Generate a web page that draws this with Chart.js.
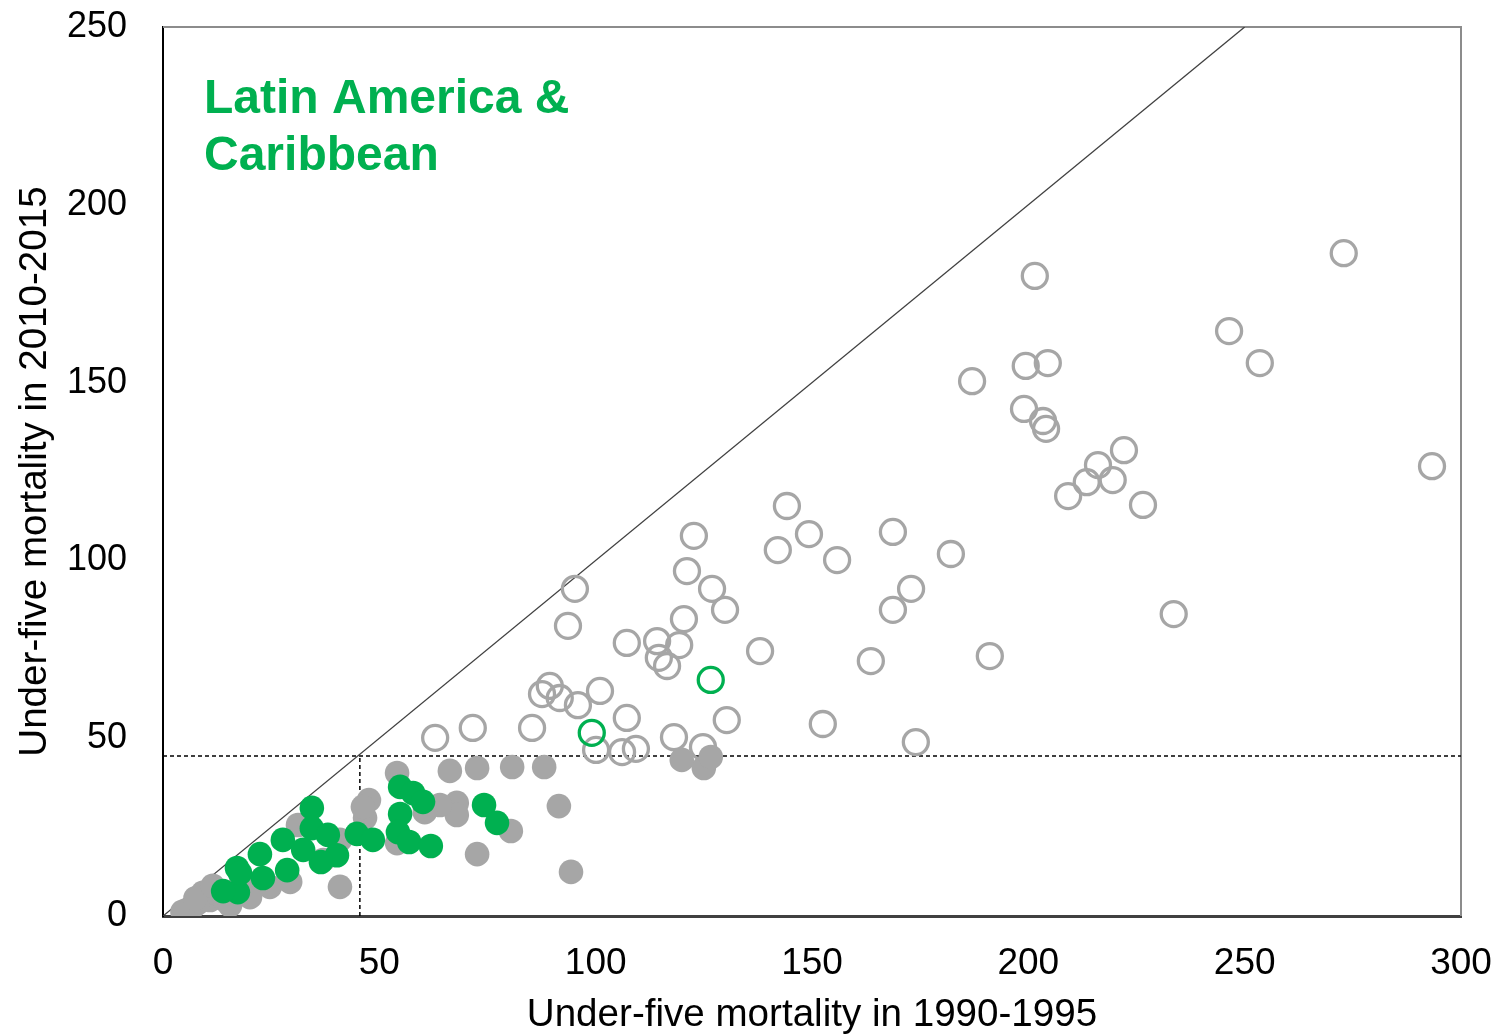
<!DOCTYPE html>
<html>
<head>
<meta charset="utf-8">
<title>Under-five mortality: 1990-1995 vs 2010-2015</title>
<script src="https://cdn.jsdelivr.net/npm/chart.js@4.4.1/dist/chart.umd.min.js"></script>
<style>
  html, body { margin: 0; padding: 0; background: #ffffff; }
  #wrap { width: 1501px; height: 1035px; position: relative; }
</style>
</head>
<body>
<div id="wrap"><canvas id="chart" width="1501" height="1035"></canvas></div>
<script>
// ---- Data -------------------------------------------------------------
// Under-five mortality (per 1,000 live births), 1990-1995 (x) vs 2010-2015 (y)

// Other countries above the 45 threshold (hollow grey)
const otherHighX = [201.5, 272.9, 246.4, 253.5, 293.3, 187.0, 199.4, 204.5, 199.0, 203.4,
                    204.1, 222.1, 216.1, 213.5, 209.2, 219.5, 226.5, 233.6, 144.2, 142.1,
                    149.3, 155.8, 168.7, 182.1, 172.9, 168.7, 191.1, 163.6, 138.0, 152.5,
                    174.0, 122.7, 121.1, 126.9, 129.9, 120.4, 130.3, 95.2, 93.6, 107.2,
                    114.2, 119.3, 114.6, 116.5, 89.4, 87.6, 91.7, 95.9, 101.0, 107.2,
                    85.3, 71.6, 62.9, 118.1, 124.8, 100.1, 106.1, 109.3];
const otherHighY = [180.0, 186.4, 164.5, 155.5, 126.5, 150.4, 154.7, 155.5, 142.6, 139.2,
                    137.0, 131.0, 126.8, 122.0, 118.1, 122.6, 115.6, 84.9, 115.3, 102.9,
                    107.4, 100.1, 108.0, 101.8, 92.0, 86.1, 73.1, 71.7, 74.5, 54.0,
                    48.9, 106.9, 97.0, 92.0, 86.1, 83.5, 55.1, 92.0, 81.6, 76.8,
                    77.3, 76.2, 72.6, 70.3, 64.7, 62.4, 61.3, 59.3, 63.3, 55.7,
                    52.9, 52.9, 50.1, 50.3, 47.5, 46.7, 46.1, 47.0];

// Latin America & Caribbean above the threshold (hollow green)
const latamHighX = [99.1, 126.6];
const latamHighY = [51.5, 66.4];

// Other countries below the threshold (solid grey)
const otherLowX = [54.1, 66.3, 72.6, 80.7, 88.1, 119.9, 125.0, 126.6, 91.5, 94.3,
                   72.6, 80.4, 67.9, 67.9, 64.0, 60.5, 47.6, 46.7, 46.2, 54.1,
                   40.9, 40.9, 37.0, 31.2, 29.4, 24.7, 20.1, 10.9, 9.2, 6.9,
                   5.5, 8.1, 12.0, 14.3, 18.0, 4.5, 7.5, 11.5, 15.5];
const otherLowY = [40.2, 40.8, 41.6, 41.9, 41.9, 43.9, 41.6, 44.7, 30.9, 12.4,
                   17.4, 23.9, 31.8, 28.4, 31.2, 29.2, 32.6, 27.6, 30.7, 20.5,
                   8.2, 21.4, 15.7, 25.6, 9.6, 8.2, 5.3, 4.5, 6.5, 2.5,
                   1.7, 3.7, 6.5, 4.5, 9.0, 1.2, 5.0, 8.5, 3.0];

// Latin America & Caribbean below the threshold (solid green)
const latamLowX = [34.4, 34.4, 38.1, 40.2, 36.5, 32.4, 27.7, 28.7, 22.4, 23.1,
                   17.1, 17.3, 13.9, 17.8, 44.8, 48.5, 54.8, 57.8, 60.1, 54.8,
                   54.3, 56.9, 61.9, 74.2, 77.2];
const latamLowY = [30.4, 24.7, 22.8, 17.1, 15.2, 18.6, 21.4, 12.9, 17.4, 10.7,
                   13.5, 6.7, 7.0, 12.1, 23.1, 21.4, 36.3, 34.6, 32.1, 28.7,
                   23.6, 20.8, 19.7, 31.2, 26.2];

// Reference lines: equality line and the 45 threshold
const parityX = [0, 250];
const parityY = [0, 250];
const thresholdHX = [0, 300];
const thresholdHY = [45, 45];
const thresholdVX = [45.5, 45.5];
const thresholdVY = [0, 45];

// Axis ticks and labels
const xTicks = [0, 50, 100, 150, 200, 250, 300];
const yTicks = [0, 50, 100, 150, 200, 250];
const xTitle = 'Under-five mortality in 1990-1995';
const yTitle = 'Under-five mortality in 2010-2015';
const regionLabel = ['Latin America &', 'Caribbean'];

// ---- Styling ----------------------------------------------------------
const GREY = '#a6a6a6';
const GREEN = '#00b050';
const FONT = '"Liberation Sans", Arial, Helvetica, sans-serif';

const pts = (xs, ys) => xs.map((x, i) => ({ x: x, y: ys[i] }));

// Frame on the top and right sides of the plot area
const framePlugin = {
  id: 'frame',
  beforeDatasetsDraw(chart) {
    const { ctx, chartArea: a } = chart;
    ctx.save();
    ctx.strokeStyle = '#8c8c8c';
    ctx.lineWidth = 2;
    ctx.beginPath();
    ctx.moveTo(a.left, a.top);
    ctx.lineTo(a.right, a.top);
    ctx.lineTo(a.right, a.bottom);
    ctx.stroke();
    ctx.restore();
  }
};

// Region name written inside the plot, top-left
const regionLabelPlugin = {
  id: 'regionLabel',
  afterDatasetsDraw(chart) {
    const { ctx, chartArea: a } = chart;
    ctx.save();
    ctx.fillStyle = GREEN;
    ctx.font = 'bold 48px ' + FONT;
    ctx.textAlign = 'left';
    ctx.textBaseline = 'alphabetic';
    regionLabel.forEach((line, i) => {
      ctx.fillText(line, a.left + 41, a.top + 86 + i * 57);
    });
    ctx.restore();
  }
};

new Chart(document.getElementById('chart'), {
  type: 'scatter',
  data: {
    datasets: [
      {
        label: 'Latin America & Caribbean (below 45)',
        data: pts(latamLowX, latamLowY),
        pointRadius: 12.3,
        pointBackgroundColor: GREEN,
        pointBorderWidth: 0,
        pointBorderColor: GREEN
      },
      {
        label: 'Other (below 45)',
        data: pts(otherLowX, otherLowY),
        pointRadius: 12.3,
        pointBackgroundColor: GREY,
        pointBorderWidth: 0,
        pointBorderColor: GREY
      },
      {
        label: 'Latin America & Caribbean (above 45)',
        data: pts(latamHighX, latamHighY),
        pointRadius: 12.5,
        pointBackgroundColor: 'rgba(0,0,0,0)',
        pointBorderColor: GREEN,
        pointBorderWidth: 3.3
      },
      {
        label: 'Other (above 45)',
        data: pts(otherHighX, otherHighY),
        pointRadius: 12.5,
        pointBackgroundColor: 'rgba(0,0,0,0)',
        pointBorderColor: GREY,
        pointBorderWidth: 3.3
      },
      {
        type: 'line',
        label: 'Equality',
        data: pts(parityX, parityY),
        borderColor: '#404040',
        borderWidth: 1.3,
        pointRadius: 0,
        fill: false
      },
      {
        type: 'line',
        label: 'Threshold (2010-2015)',
        data: pts(thresholdHX, thresholdHY),
        borderColor: '#000000',
        borderWidth: 1.5,
        borderDash: [4, 3],
        pointRadius: 0,
        fill: false
      },
      {
        type: 'line',
        label: 'Threshold (1990-1995)',
        data: pts(thresholdVX, thresholdVY),
        borderColor: '#000000',
        borderWidth: 1.5,
        borderDash: [4, 3],
        pointRadius: 0,
        fill: false
      }
    ]
  },
  options: {
    responsive: false,
    animation: false,
    events: [],
    layout: { padding: { top: 27, right: 40, left: 0, bottom: 0 } },
    plugins: {
      legend: { display: false },
      tooltip: { enabled: false },
      title: { display: false }
    },
    scales: {
      x: {
        type: 'linear',
        min: 0,
        max: 300,
        afterBuildTicks(scale) { scale.ticks = xTicks.map(v => ({ value: v })); },
        afterFit(scale) {
          scale.height = 119;
          scale.paddingLeft = 0;
          scale.paddingRight = 0;
        },
        ticks: {
          color: '#000000',
          padding: 26,
          font: { size: 37, family: FONT },
          callback: v => String(v)
        },
        grid: { display: false, drawTicks: false },
        border: { display: true, color: '#404040', width: 3 },
        title: {
          display: true,
          text: xTitle,
          color: '#000000',
          font: { size: 38.6, family: FONT, lineHeight: 1 },
          padding: { top: 0, bottom: 0 }
        }
      },
      y: {
        type: 'linear',
        min: 0,
        max: 250,
        afterBuildTicks(scale) { scale.ticks = yTicks.map(v => ({ value: v })); },
        afterFit(scale) {
          scale.width = 163;
          scale.paddingTop = 0;
          scale.paddingBottom = 0;
        },
        ticks: {
          color: '#000000',
          padding: 36,
          font: { size: 36, family: FONT },
          callback: v => String(v)
        },
        grid: { display: false, drawTicks: false },
        border: { display: true, color: '#000000', width: 2 },
        title: {
          display: true,
          text: yTitle,
          color: '#000000',
          font: { size: 38.6, family: FONT, lineHeight: 1 },
          padding: { top: 16, bottom: 0 }
        }
      }
    }
  },
  plugins: [framePlugin, regionLabelPlugin]
});
</script>
</body>
</html>
